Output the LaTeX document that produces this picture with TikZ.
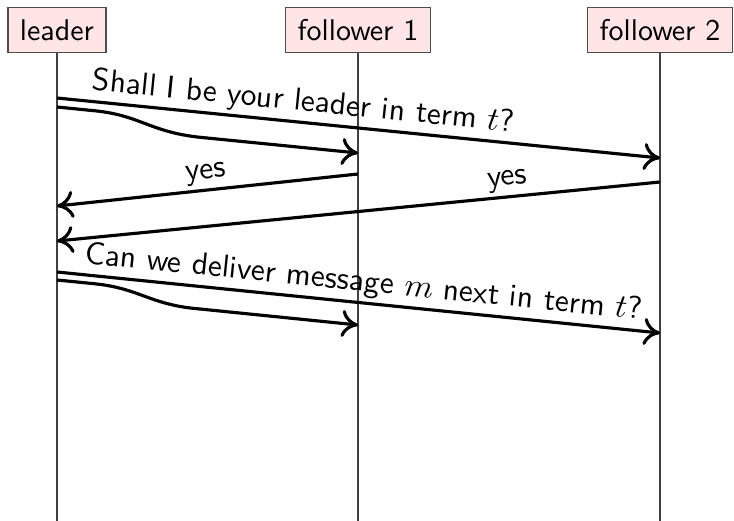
\documentclass[tikz,border=0pt]{standalone}
\usepackage{amsmath,amssymb}
\usepackage{tikz}
\usetikzlibrary{positioning,arrows.meta,calc}
\renewcommand{\familydefault}{\sfdefault}

\begin{document}
\begin{tikzpicture}[
			x=0.3333pt,y=-0.3333pt,
			party/.style={draw=black!70,fill=red!10,inner sep=4pt,minimum height=14.7pt},
			life/.style={draw=black!75},
			msg/.style={line width=1.05pt,->},
			lbl/.style={sloped,above,inner sep=1.2pt,font=\fontsize{10.5}{12}\selectfont},
			>={Computer Modern Rightarrow[length=5.5pt,width=9pt]}
			]
			\useasboundingbox (0,0) rectangle (734,521);
			
			\node[party] (leader) at (57,30) {leader};
			\node[party] (f1) at (358,30) {follower 1};
			\node[party] (f2) at (660,30) {follower 2};
			
			% lifelines
			\coordinate (leaderend) at (57,521);
			\coordinate (f1end) at (358,521);
			\coordinate (f2end) at (660,521);
			\draw[life] (leader) -- (leaderend);
			\draw[life] (f1) -- (f1end);
			\draw[life] (f2) -- (f2end);
			
			% vote request
			\coordinate (ask2s) at (57,98);
			\coordinate (ask2e) at (660,158);
			\coordinate (ask1s) at (57,107);
			\coordinate (ask1e) at (358,153);
			\draw[msg] (ask2s) -- node[lbl,pos=0.405] {Shall I be your leader in term $t$?} (ask2e);
			\draw[msg] (ask1s) -- (95,110.8) .. controls (140,115.3) and (150,132) .. (200,137.3) -- (ask1e);
			
			% replies
			\coordinate (yes1s) at (358,174);
			\coordinate (yes1e) at (57,206);
			\coordinate (yes2s) at (660,182);
			\coordinate (yes2e) at (57,241);
			\draw[msg] (yes1s) -- node[lbl] {yes} (yes1e);
			\draw[msg] (yes2s) -- node[lbl,pos=0.25] {yes} (yes2e);
			
			% deliver request
			\coordinate (del2s) at (57,272);
			\coordinate (del2e) at (660,333);
			\coordinate (del1s) at (57,280);
			\coordinate (del1e) at (358,325);
			\draw[msg] (del2s) -- node[lbl,pos=0.505] {Can we deliver message $m$ next in term $t$?} (del2e);
			\draw[msg] (del1s) -- (95,283.8) .. controls (140,288.4) and (150,305) .. (200,309) -- (del1e);
			
		\end{tikzpicture}
\end{document}
